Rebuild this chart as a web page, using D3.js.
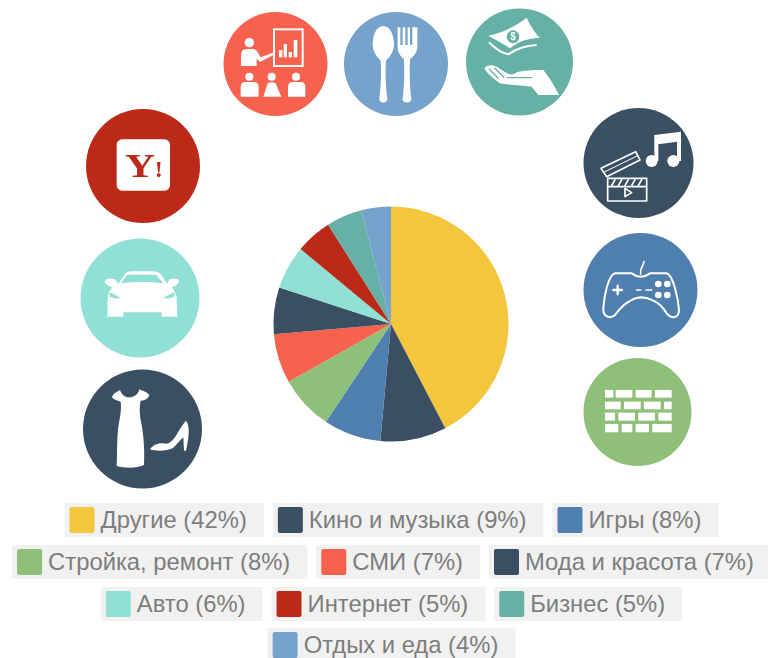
<!DOCTYPE html>
<html><head><meta charset="utf-8">
<script src="https://cdn.jsdelivr.net/npm/d3@7/dist/d3.min.js"></script>
<style>html,body{margin:0;padding:0;background:#fff;overflow:hidden}svg{display:block;filter:blur(.55px)}</style>
</head><body><svg id="c" width="768" height="658"></svg>
<script>
const categories=["Другие","Кино и музыка","Игры","Стройка, ремонт","СМИ","Мода и красота","Авто","Интернет","Бизнес","Отдых и еда"];
const values=[42.4,9.1,7.9,7.5,6.8,6.4,6,5,4.9,4.1];
const legendPercents=[42,9,8,8,7,7,6,5,5,4];
const colors=["#f4c63d","#3b4f63","#4e7fae","#8fc07a","#f7624f","#3b4f63","#90e0d6","#bb2a18","#66b0a5","#75a3cc"];
const legendRows=[[0,1,2],[3,4,5],[6,7,8],[9]];

const svg=d3.select("#c");
const W="#fff";

// icon discs: [cx, cy, r, colour]
const discs=[[275.5,64,52,"#f7624f"],[396,64,52,"#75a3cc"],[519.5,62,53.5,"#66b0a5"],
 [143,166,57,"#bb2a18"],[140,298,59.5,"#90e0d6"],[142.5,429,59.5,"#3b4f63"],
 [638.5,163,55,"#3b4f63"],[640.5,290,57,"#4e7fae"],[637.5,412,54,"#8fc07a"]];
svg.append("g").selectAll("circle").data(discs).join("circle")
 .attr("cx",d=>d[0]).attr("cy",d=>d[1]).attr("r",d=>d[2]).attr("fill",d=>d[3]);

// top-row glyphs
const top3=svg.append("g").attr("transform","translate(210,0) scale(.3333)");
// presentation
top3.append("rect").attr("x",192).attr("y",88).attr("width",86).attr("height",110).attr("fill","none").attr("stroke",W).attr("stroke-width",6);
[[207,150,10,22],[221,132,10,40],[236,156,10,16],[251,120,11,52]].forEach(b=>top3.append("rect").attr("x",b[0]).attr("y",b[1]).attr("width",b[2]).attr("height",b[3]).attr("fill",W));
top3.append("circle").attr("cx",118).attr("cy",128).attr("r",14).attr("fill",W);
top3.append("path").attr("fill",W).attr("d","M93,198V165Q93,147 112,147H128Q140,147 145,160L152,172L188,158L190,165L150,186L140,176V198Z");
[[118,230,92,146],[185,230,160,214],[258,230,234,286]].forEach((a,i)=>{
 top3.append("circle").attr("cx",a[0]).attr("cy",a[1]).attr("r",12).attr("fill",W);
 top3.append("path").attr("fill",W).attr("d",i==1?`M${a[2]},290L${a[0]-12},250Q${a[0]},243 ${a[0]+12},250L${a[3]},290Z`:`M${a[2]},290V262Q${a[2]},246 ${a[2]+14},246H${a[3]-14}Q${a[3]},246 ${a[3]},262V290Z`);
});
// spoon
top3.append("path").attr("fill",W).attr("d","M520,78C500,78 488,105 488,132C488,158 503,172 512,182C515,220 512,270 508,295C506,312 534,312 532,295C528,270 525,220 528,182C537,172 552,158 552,132C552,105 540,78 520,78Z");
// fork
top3.append("path").attr("fill",W).attr("d","M563,82H571V135H578V82H586V135H593V82H600V135H607V82H622V140C622,160 608,170 600,178C598,220 600,270 604,295C606,312 576,312 578,295C582,270 584,220 582,178C574,170 563,160 563,140Z");
// money
const mon=svg.append("g").attr("transform","translate(475,15) scale(.3333)");
mon.append("path").attr("fill",W).attr("d","M40,62C80,55 120,35 155,8C165,30 180,55 195,68C160,70 130,78 105,100C85,85 60,75 40,62Z");
mon.append("circle").attr("cx",114).attr("cy",65).attr("r",19).attr("fill","#66b0a5");
mon.append("text").attr("x",114).attr("y",76).attr("text-anchor","middle").attr("font-family","Liberation Sans").attr("font-weight",700).attr("font-size",30).attr("fill",W).text("$");
mon.append("path").attr("fill","none").attr("stroke",W).attr("stroke-width",6).attr("d","M42,82C60,100 80,115 100,118C125,100 150,92 185,90");
mon.append("path").attr("fill",W).attr("d","M28,160C40,145 60,150 80,165C95,175 110,185 125,172C150,165 190,165 205,165C225,190 240,215 252,240H190L170,215C140,210 100,210 75,205C55,190 35,175 28,160Z");
mon.append("path").attr("fill","none").attr("stroke","#66b0a5").attr("stroke-width",4).attr("d","M58,158L88,188M42,162L70,190M170,188H95");

// left column glyphs
const left=svg.append("g").attr("transform","translate(70,100) scale(.3333)");
left.append("rect").attr("x",140).attr("y",118).attr("width",160).attr("height",154).attr("rx",16).attr("fill",W);
left.append("text").attr("x",210).attr("y",232).attr("text-anchor","middle").attr("font-family","Liberation Serif").attr("font-weight",700).attr("font-size",100).attr("textLength",90).attr("lengthAdjust","spacingAndGlyphs").attr("fill","#bb2a18").text("Y");
left.append("text").attr("x",266).attr("y",232).attr("text-anchor","middle").attr("font-family","Liberation Serif").attr("font-weight",700).attr("font-size",72).attr("fill","#bb2a18").text("!");
// car
left.append("path").attr("fill",W).attr("d","M145,552L165,522Q170,515 185,514H250Q265,515 272,522L292,552L298,538Q325,530 327,545Q325,555 305,562Q322,580 320,605L322,650H275V637H160V650H112L113,605Q110,580 127,562Q107,555 105,545Q108,530 135,538Z");
left.append("path").attr("fill","#90e0d6").attr("d","M152,550L172,524H258L280,550Q215,540 152,550ZM118,578Q135,580 152,595Q130,597 120,590ZM315,578Q298,580 280,595Q302,597 312,590Z");
// dress and heel
const drs=svg.append("g").attr("transform","translate(100,380) scale(.3333)");
drs.append("path").attr("fill",W).attr("d","M60,30C50,35 38,42 36,52C45,62 55,62 62,65C65,90 60,110 55,140C50,180 52,230 50,258C75,265 110,265 132,255C134,220 132,170 124,130C118,100 118,80 122,62C130,62 145,58 148,45C140,35 125,32 118,28C115,45 100,52 88,52C75,52 65,45 60,30Z");
drs.append("path").attr("fill",W).attr("d","M150,208C158,195 175,188 190,190C205,195 215,185 225,172C238,150 250,130 258,122C268,135 270,160 258,212L252,212L250,172C240,180 230,195 218,205C200,213 170,215 150,208Z");

// right column glyphs
const right=svg.append("g").attr("transform","translate(570,100) scale(.3333)");
const ln=(g,d,w)=>g.append("path").attr("fill","none").attr("stroke",W).attr("stroke-width",w).attr("stroke-linejoin","round").attr("stroke-linecap","round").attr("d",d);
// clapper and notes
const film=svg.append("g").attr("transform","translate(595,125) scale(.3333)");
ln(film,"M38,160H155V228H38Z",5); ln(film,"M38,185H155",5);
ln(film,"M50,182L60,164M70,182L80,164M90,182L100,164M110,182L120,164M130,182L140,164",5);
ln(film,"M18,130L122,80L135,105L35,155Z",5); ln(film,"M26,142L128,92",3);
ln(film,"M90,190L110,203L90,215Z",5);
film.append("path").attr("fill",W).attr("d","M178,108V30L258,20V108H246V50L190,58V108Z");
film.append("circle").attr("cx",170).attr("cy",108).attr("r",18).attr("fill",W);
film.append("circle").attr("cx",235).attr("cy",108).attr("r",18).attr("fill",W);
// gamepad
ln(right,"M222,485C220,500 208,505 212,522",5);
ln(right,"M135,520H185Q200,530 212,530Q225,530 240,520H290C310,525 325,600 327,630C327,655 305,658 290,640C275,615 260,605 245,600C225,590 200,590 180,603C165,610 150,625 135,645C120,658 98,650 100,625C102,590 115,525 135,520Z",6);
ln(right,"M130,570H156M143,557V583",7);
ln(right,"M200,570H212M228,570H245",5);
[[265,552],[292,552],[265,585],[292,585]].forEach(p=>right.append("circle").attr("cx",p[0]).attr("cy",p[1]).attr("r",10).attr("fill",W));
// bricks: [y, h, [x0,x1]...]
[[870,23,[[105,130],[137,187],[197,245],[255,305]]],[905,23,[[105,152],[162,212],[222,272],[282,305]]],
 [938,24,[[105,135],[145,195],[205,255],[265,305]]],[972,25,[[105,145],[155,187],[197,237],[247,305]]]]
 .forEach(r=>r[2].forEach(b=>right.append("rect").attr("x",b[0]).attr("y",r[0]).attr("width",b[1]-b[0]).attr("height",r[1]).attr("fill",W)));

// pie
const pie=d3.pie().sort(null)(values);
const arc=d3.arc().innerRadius(0).outerRadius(117.5);
svg.append("g").attr("transform","translate(391,324)").selectAll("path").data(pie).join("path")
 .attr("d",arc).attr("fill",(d,i)=>colors[i]);

// legend
const rowY=[503,545,587,628], fs=23.8;
const lg=svg.append("g").attr("font-family","Liberation Sans").attr("font-size",fs);
const probe=lg.append("text").attr("opacity",0);
const labels=categories.map((c,i)=>`${c} (${legendPercents[i]}%)`);
const widths=labels.map(t=>probe.text(t).node().getComputedTextLength()+53);
probe.remove();
legendRows.forEach((row,ri)=>{
 const total=d3.sum(row,i=>widths[i])+9*(row.length-1);
 let x=391.5-total/2;
 row.forEach(i=>{
  const g=lg.append("g").attr("transform",`translate(${x},${rowY[ri]})`);
  g.append("rect").attr("width",widths[i]).attr("height",34).attr("fill","#f1f1f1");
  g.append("rect").attr("x",5).attr("y",4).attr("width",25).attr("height",26).attr("rx",2).attr("fill",colors[i]);
  g.append("text").attr("x",36).attr("y",25).attr("fill","#7d7d7d").text(labels[i]);
  x+=widths[i]+9;
 });
});
</script></body></html>
